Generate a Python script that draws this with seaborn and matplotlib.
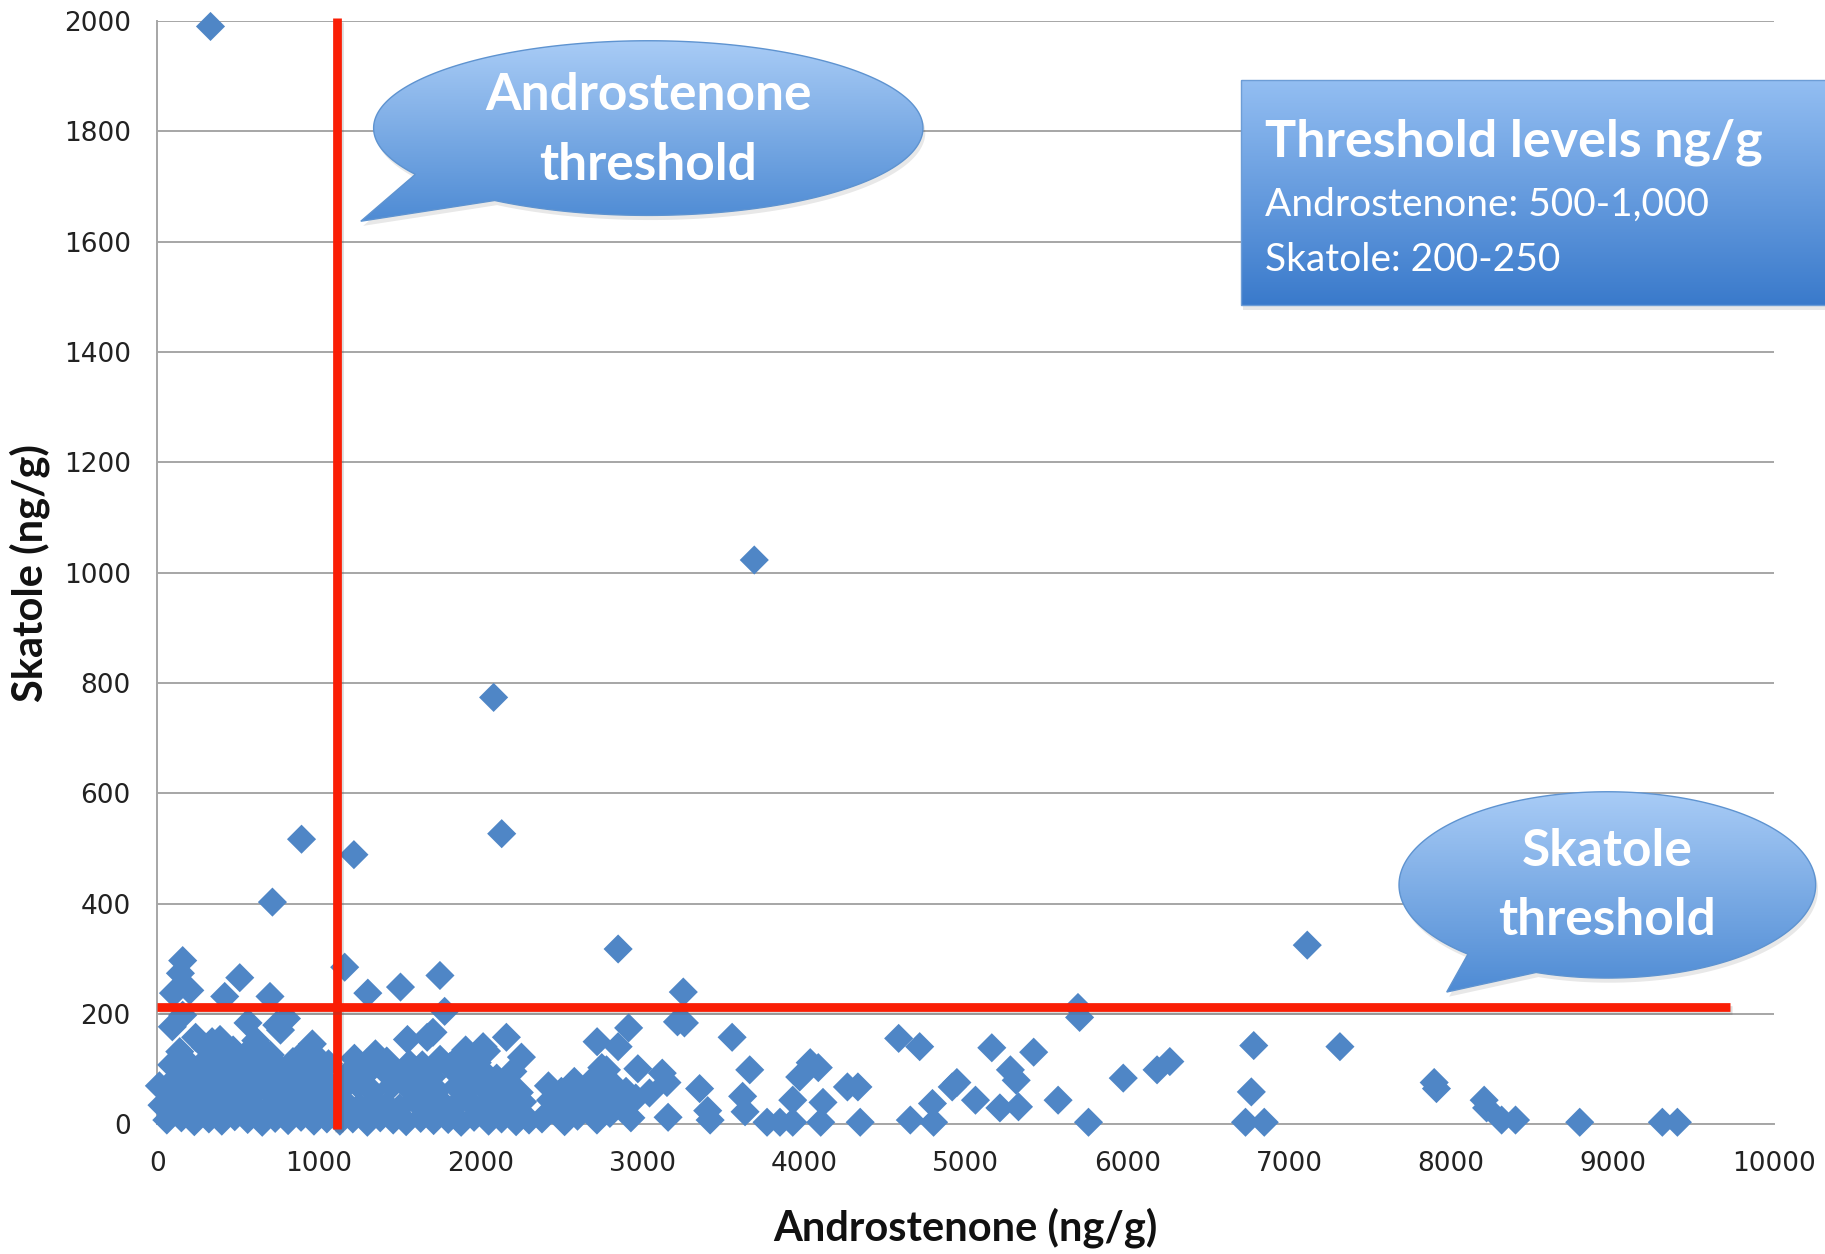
import numpy as np
import pandas as pd
import matplotlib
matplotlib.use("Agg")
import matplotlib.pyplot as plt
import matplotlib.colors as mcolors
from matplotlib.patches import Polygon
from matplotlib import patheffects as pe
import seaborn as sns

# ---------------- data ----------------
# dense cluster, androstenone 0-1100
andro_a = [60, 150, 230, 320, 400, 480, 560, 650, 730, 810, 890, 970, 1050,
           30, 110, 190, 270, 350, 440, 520, 600, 690, 770, 850, 930, 1010, 1090,
           70, 160, 240, 330, 410, 490, 580, 660, 740, 820, 900, 990, 1070,
           14, 120, 200, 290, 370, 450, 540, 620, 700, 790, 860, 950, 1030,
           90, 180, 260, 350, 430, 510, 590, 680, 760, 840, 920,
           140, 300, 400, 470, 640, 700, 880, 1000, 340, 610, 960, 1060,
           330, 94, 101, 144, 158, 202, 418, 511, 698, 158, 562, 740, 800,
           238, 389, 576, 763, 713, 893]
skatole_a = [8, 12, 5, 10, 6, 14, 9, 4, 11, 7, 13, 6, 10,
             35, 28, 40, 32, 38, 30, 42, 34, 29, 37, 31, 39, 33, 27,
             62, 55, 66, 58, 60, 64, 52, 68, 57, 63, 59, 54, 61,
             70, 85, 90, 82, 88, 94, 80, 86, 92, 84, 89, 78, 83,
             108, 115, 104, 112, 118, 106, 110, 120, 102, 114, 100,
             132, 140, 128, 135, 138, 126, 122, 118, 150, 152, 146, 110,
             1990, 177, 238, 274, 297, 243, 232, 266, 232, 198, 184, 180, 192,
             158, 154, 135, 171, 403, 517]

# cluster, androstenone 1100-2350
andro_b = [1130, 1210, 1300, 1380, 1460, 1540, 1630, 1710, 1800, 1880, 1960, 2050, 2130, 2220, 2300,
           1170, 1250, 1340, 1420, 1500, 1590, 1670, 1760, 1840, 1920, 2010, 2090, 2180, 2260,
           1150, 1240, 1330, 1450, 1560, 1640, 1730, 1850, 1950, 2040, 2150, 2240,
           1190, 1280, 1390, 1480, 1600, 1700, 1810, 1900, 2000, 2100, 2200,
           1220, 1350, 1420, 1560, 1750, 1980, 1300, 1640, 1870,
           1160, 1217, 1303, 1505, 1749, 1778, 1548, 1670, 1706, 2016, 2160, 2253,
           2081, 2131, 1908, 2037]
skatole_b = [6, 10, 4, 12, 8, 5, 11, 7, 9, 4, 13, 6, 10, 5, 8,
             38, 32, 42, 35, 30, 44, 36, 40, 33, 45, 31, 39, 34, 41,
             66, 72, 60, 70, 64, 75, 62, 68, 73, 61, 69, 58,
             95, 88, 102, 90, 98, 86, 105, 92, 100, 84, 96,
             120, 128, 115, 110, 118, 112, 112, 108, 122,
             285, 489, 238, 249, 270, 205, 154, 158, 167, 141, 158, 122,
             774, 527, 135, 133]

# androstenone 2350-3000
andro_c = [2380, 2433, 2470, 2520, 2560, 2600, 2640, 2690, 2720, 2760, 2800, 2840, 2890, 2930, 2960,
           2420, 2500, 2580, 2660, 2740, 2820, 2900]
skatole_c = [10, 44, 25, 5, 40, 15, 50, 30, 8, 45, 20, 55, 35, 12, 48,
             70, 60, 78, 65, 85, 72, 60]

# androstenone 2700-5500
andro_d = [2851, 3254, 3218, 3261, 2916, 2721, 2851, 3556, 2750, 2973, 3124, 3153, 3665, 3355,
           2678, 2779, 3045, 3160, 3405, 3420, 3621, 3636, 3772, 3852, 3931, 3931, 3974, 4039,
           4089, 4118, 4104, 4269, 4334, 4348, 4586, 4716, 4658, 4802, 4795, 4917, 4946, 5061,
           5162, 5212, 5327, 3693]
skatole_d = [318, 240, 186, 184, 175, 150, 141, 158, 103, 101, 93, 76, 99, 65,
             76, 99, 57, 13, 25, 8, 51, 23, 4, 4, 4, 44, 86, 112,
             103, 40, 4, 68, 68, 4, 156, 141, 8, 4, 38, 68, 76, 44,
             139, 30, 32, 1023]

# androstenone 5400-9500
andro_e = [5695, 5705, 5421, 5277, 5313, 5572, 5760, 5975, 6184, 6263, 6782, 6767, 6731, 6847,
           7113, 7315, 7898, 7912, 8207, 8222, 8315, 8401, 8798, 9309, 9402]
skatole_e = [212, 194, 131, 99, 80, 44, 4, 84, 99, 114, 143, 59, 4, 4,
             325, 141, 76, 65, 44, 30, 8, 8, 4, 4, 4]

andro_threshold = 1110
skatole_threshold = 213
skatole_line_end = 9726

x_ticks = list(range(0, 10001, 1000))
y_ticks = list(range(0, 2001, 200))

# ---------------- figure ----------------
sns.set_style("white")
plt.rcParams['font.family'] = ['DejaVu Sans']

df = pd.DataFrame({
    "Androstenone": andro_a + andro_b + andro_c + andro_d + andro_e,
    "Skatole": skatole_a + skatole_b + skatole_c + skatole_d + skatole_e,
})

fig = plt.figure(figsize=(18.25, 12.54), dpi=100)
ax = fig.add_axes([0.0861, 0.1033, 0.886, 0.880])

sns.scatterplot(data=df, x="Androstenone", y="Skatole", marker="D", s=220,
                color="#4F86C6", edgecolor="none", linewidth=0, ax=ax,
                clip_on=False, zorder=3)

ax.set_xlim(0, 10000)
ax.set_ylim(0, 2000)
ax.set_xticks(x_ticks)
ax.set_yticks(y_ticks)
ax.set_axisbelow(True)
ax.yaxis.grid(True, color="#A6A6A6", lw=1.4)
ax.xaxis.grid(False)
for s in ["top", "right"]:
    ax.spines[s].set_visible(False)
for s in ["left", "bottom"]:
    ax.spines[s].set_color("#A6A6A6")
    ax.spines[s].set_linewidth(1.4)
ax.tick_params(length=0, labelsize=19, pad=19, labelcolor="#222222")

ax.set_xlabel("Androstenone (ng/g)", fontfamily="Lato", fontweight="bold", fontsize=30, color="#111111")
ax.set_ylabel("Skatole (ng/g)", fontfamily="Lato", fontweight="bold", fontsize=30, color="#111111")
ax.xaxis.set_label_coords(0.5, -0.075)
ax.yaxis.set_label_coords(-0.066, 0.5)

# threshold lines
shadow = [pe.SimpleLineShadow(offset=(1.5, -2.5), alpha=0.2, shadow_color="#555555"), pe.Normal()]
ax.plot([andro_threshold, andro_threshold], [-8, 2005], color="#FA1E05", lw=6.3,
        solid_capstyle="butt", clip_on=False, zorder=5, path_effects=shadow)
ax.plot([0, skatole_line_end], [skatole_threshold, skatole_threshold], color="#FA1E05", lw=6.3,
        solid_capstyle="butt", clip_on=False, zorder=5, path_effects=shadow)

# ---------------- overlay for callouts (coords in 1568x1077 frame) ----------------
ov = fig.add_axes([0, 0, 1, 1], zorder=10)
ov.patch.set_alpha(0)
ov.axis("off")


def grad_shape(poly, top, bottom, edge, z):
    poly = np.asarray(poly, float)
    x0, x1 = poly[:, 0].min(), poly[:, 0].max()
    y0, y1 = poly[:, 1].min(), poly[:, 1].max()
    sh = Polygon(poly + np.array([2, 4]), closed=True, facecolor="#000000", alpha=0.09,
                 edgecolor="none", zorder=z - 0.5)
    ov.add_patch(sh)
    t = np.linspace(0, 1, 256)[:, None, None]
    c0 = np.array(mcolors.to_rgb(top))[None, None, :]
    c1 = np.array(mcolors.to_rgb(bottom))[None, None, :]
    img = c0 + (c1 - c0) * t
    im = ov.imshow(img, extent=(x0, x1, y1, y0), origin="upper", aspect="auto",
                   interpolation="bilinear", zorder=z)
    p = Polygon(poly, closed=True, facecolor="none", edgecolor=edge, lw=1.0, zorder=z + 0.1)
    ov.add_patch(p)
    im.set_clip_path(p)


def bubble(cx, cy, a, b, th_start, th_end, tip):
    ang = np.radians(np.linspace(th_start, th_end + 360, 300))
    pts = np.column_stack([cx + a * np.cos(ang), cy + b * np.sin(ang)])
    return np.vstack([pts, [tip]])


grad_shape(bubble(557, 110, 236, 75, 148, 124, (310, 190)), "#A9CCF6", "#4E8BD4", "#5E93D0", 2)
grad_shape(bubble(1381, 760, 179, 80, 132, 110, (1243, 852)), "#A9CCF6", "#4E8BD4", "#5E93D0", 2)
grad_shape([(1066, 69), (1575, 69), (1575, 262), (1066, 262)], "#93BEF2", "#3A7ACB", "#6D9DD6", 2)

bold = dict(family="Lato", weight="bold", color="white", zorder=4)
ov.text(557, 82, "Androstenone", fontsize=37, ha="center", va="center", **bold)
ov.text(557, 142, "threshold", fontsize=37, ha="center", va="center", **bold)
ov.text(1381, 731, "Skatole", fontsize=37, ha="center", va="center", **bold)
ov.text(1381, 791, "threshold", fontsize=37, ha="center", va="center", **bold)
ov.text(1087, 122, "Threshold levels ng/g", fontsize=37.5, ha="left", va="center", **bold)
ov.text(1087, 176, "Androstenone: 500-1,000", fontsize=28, ha="left", va="center",
        family="Lato", color="white", zorder=4)
ov.text(1087, 223, "Skatole: 200-250", fontsize=28, ha="left", va="center",
        family="Lato", color="white", zorder=4)

ov.set_xlim(0, 1568)
ov.set_ylim(1077, 0)

fig.savefig("out.png", dpi=100)
